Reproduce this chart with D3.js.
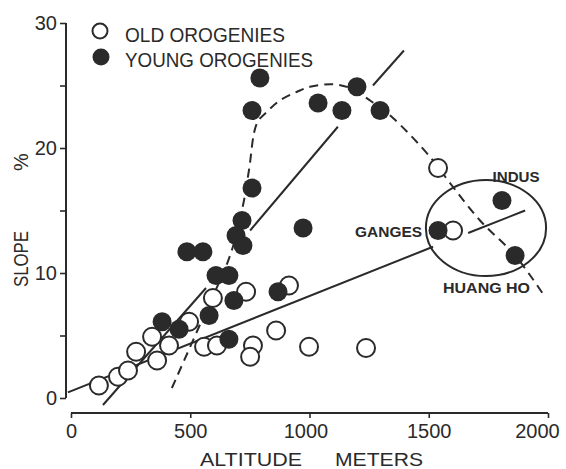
<!DOCTYPE html>
<html><head><meta charset="utf-8">
<script src="https://cdn.jsdelivr.net/npm/d3@7"></script>
<style>body{margin:0;background:#fff}svg{display:block}text{font-family:"Liberation Sans",Arial,sans-serif;fill:#2a2a2a}</style>
</head><body><svg id="c" width="566" height="469"></svg>
<script>
// Old orogenies (open circles): altitude (m), slope (%)
const oldAlt   = [117,197,239,273,340,361,411,495,558,612,595,734,763,751,860,914,998,1237,1602,1539];
const oldSlope = [1.0,1.7,2.2,3.7,4.9,3.0,4.2,6.1,4.1,4.2,8.0,8.5,4.2,3.3,5.4,9.0,4.1,4.0,13.4,18.4];
// Young orogenies (filled circles)
const youngAlt   = [792,759,1036,1136,1199,1296,759,717,692,721,486,553,608,662,683,579,382,453,662,973,868,1539,1807,1862];
const youngSlope = [25.6,23.0,23.6,23.0,24.9,23.0,16.8,14.2,13.0,12.2,11.7,11.7,9.8,9.8,7.8,6.6,6.1,5.5,4.7,13.6,8.5,13.4,15.8,11.4];
// Trend lines (solid, drawn as broken segments)
const steepLine = [[[134,-0.56],[566,8.8]],[[751,13.4],[1119,21.7]],[[1266,25.0],[1396,27.8]]];
const shallowLine = [[[-13,0.45],[1518,12.1]],[[1665,13.2],[1904,15.0]]];
// Dashed envelope curve
const envAlt   = [423,553,667,721,746,780,822,876,948,1002,1099,1170,1254,1350,1505,1581,1715,1862,1987];
const envSlope = [0.8,6.4,11.4,15.4,18.2,22.0,22.9,23.8,24.5,24.9,25.1,24.8,23.8,22.4,19.3,17.4,14.2,11.4,8.1];
// Ellipse round the big rivers
const ellipse = {cx:1740, cy:13.6, rx:252, ry:3.84};
const riverLabels = [
  {t:"GANGES", x:1472, y:12.9, anchor:"end", len:67},
  {t:"INDUS", x:1866, y:17.3, anchor:"middle", len:47},
  {t:"HUANG HO", x:1560, y:8.4, anchor:"start", len:87}
];
const xTicks = [0,500,1000,1500,2000];
const yTicks = [0,5,10,15,20,25,30];
const yLabels = [0,10,20,30];

const ink = "#2a2a2a";
const svg = d3.select("#c");
const x = d3.scaleLinear().domain([0,2000]).range([71,548]);
const y = d3.scaleLinear().domain([0,30]).range([398,23]);

// axes
const yAxis = svg.append("g").attr("transform","translate(66,0)")
  .call(d3.axisLeft(y).tickValues(yTicks).tickSize(6).tickFormat(d=>yLabels.includes(d)?d:"").tickPadding(3));
const xAxis = svg.append("g").attr("transform","translate(0,413)")
  .call(d3.axisBottom(x).tickValues(xTicks).tickSize(5).tickPadding(6).tickFormat(d3.format("d")));
[yAxis,xAxis].forEach(g=>{
  g.select(".domain").attr("stroke",ink).attr("stroke-width",2);
  g.selectAll(".tick line").attr("stroke",ink).attr("stroke-width",1.6);
  g.selectAll(".tick text").attr("fill",ink).style("font-size","20px").style("font-family","Liberation Sans, Arial");
});
xAxis.selectAll(".tick text").attr("dx",d=>d===2000?-11:(d===1000?-4:0));
yAxis.select(".domain").attr("d","M0,"+y(30)+"V"+y(0));
xAxis.select(".domain").attr("d","M"+x(0)+",0H"+x(2000));

const line = d3.line().x(d=>x(d[0])).y(d=>y(d[1]));
const plot = svg.append("g");
[...steepLine,...shallowLine].forEach(seg=>{
  plot.append("path").attr("d",line(seg)).attr("fill","none").attr("stroke",ink).attr("stroke-width",2);
});
const env = envAlt.map((a,i)=>[a,envSlope[i]]);
plot.append("path").attr("d",d3.line().x(d=>x(d[0])).y(d=>y(d[1])).curve(d3.curveCatmullRom)(env))
  .attr("fill","none").attr("stroke",ink).attr("stroke-width",2).attr("stroke-dasharray","9,6");
plot.append("ellipse").attr("cx",x(ellipse.cx)).attr("cy",y(ellipse.cy))
  .attr("rx",x(ellipse.cx+ellipse.rx)-x(ellipse.cx)).attr("ry",y(ellipse.cy-ellipse.ry)-y(ellipse.cy))
  .attr("fill","none").attr("stroke",ink).attr("stroke-width",2);

plot.selectAll("circle.old").data(oldAlt.map((a,i)=>[a,oldSlope[i]])).join("circle")
  .attr("class","old").attr("cx",d=>x(d[0])).attr("cy",d=>y(d[1])).attr("r",9)
  .attr("fill","#fff").attr("stroke",ink).attr("stroke-width",2);
plot.selectAll("circle.young").data(youngAlt.map((a,i)=>[a,youngSlope[i]])).join("circle")
  .attr("class","young").attr("cx",d=>x(d[0])).attr("cy",d=>y(d[1])).attr("r",9.5)
  .attr("fill",ink);

riverLabels.forEach(l=>{
  svg.append("text").attr("x",x(l.x)).attr("y",y(l.y)).attr("text-anchor",l.anchor)
    .attr("textLength",l.len).attr("lengthAdjust","spacingAndGlyphs")
    .style("font-size","15px").style("font-weight","bold").text(l.t);
});

// legend
svg.append("circle").attr("cx",100).attr("cy",31).attr("r",7.5).attr("fill","#fff").attr("stroke",ink).attr("stroke-width",2);
svg.append("circle").attr("cx",101).attr("cy",57).attr("r",8.5).attr("fill",ink);
svg.append("text").attr("x",125).attr("y",42).attr("textLength",160).attr("lengthAdjust","spacingAndGlyphs").style("font-size","20px").text("OLD OROGENIES");
svg.append("text").attr("x",125).attr("y",67).attr("textLength",188).attr("lengthAdjust","spacingAndGlyphs").style("font-size","20px").text("YOUNG OROGENIES");

// axis titles
svg.append("text").attr("transform","translate(28,259) rotate(-90)").attr("text-anchor","middle")
  .attr("textLength",56).attr("lengthAdjust","spacingAndGlyphs").style("font-size","20px").text("SLOPE");
svg.append("text").attr("transform","translate(28,162) rotate(-90)").attr("text-anchor","middle")
  .style("font-size","20px").text("%");
svg.append("text").attr("x",251).attr("y",466).attr("text-anchor","middle")
  .attr("textLength",102).attr("lengthAdjust","spacingAndGlyphs").style("font-size","18px").text("ALTITUDE");
svg.append("text").attr("x",379).attr("y",466).attr("text-anchor","middle")
  .attr("textLength",88).attr("lengthAdjust","spacingAndGlyphs").style("font-size","18px").text("METERS");
</script></body></html>
